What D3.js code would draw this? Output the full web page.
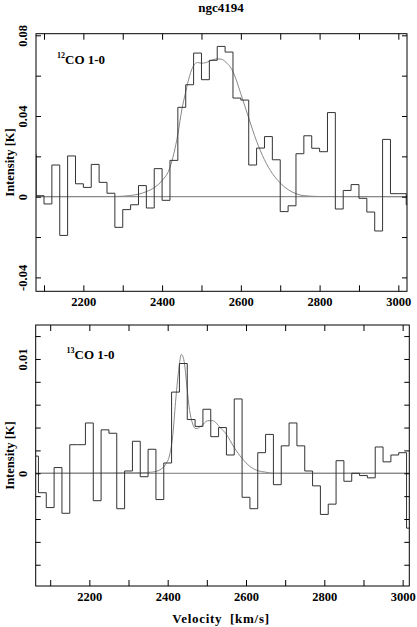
<!DOCTYPE html>
<html>
<head>
<meta charset="utf-8">
<script src="https://cdn.jsdelivr.net/npm/d3@7"></script>
<style>
body { margin: 0; background: #fff; }
svg text { font-family: "Liberation Serif", "Times New Roman", serif; font-weight: bold; fill: #000; }
</style>
</head>
<body>
<div id="chart-area"></div>
<script>
/*
*    ngc4194 CO spectra
*/

var title = "ngc4194";
var chanWidth = 20;   // km/s

// 12CO 1-0 : channel centres (km/s) and intensities (K)
var co12Vel = [2070, 2090, 2110, 2130, 2150, 2170, 2190, 2210, 2230, 2250,
    2270, 2290, 2310, 2330, 2350, 2370, 2390, 2410, 2430, 2450,
    2470, 2490, 2510, 2530, 2550, 2570, 2590, 2610, 2630, 2650,
    2670, 2690, 2710, 2730, 2750, 2770, 2790, 2810, 2830, 2850,
    2870, 2890, 2910, 2930, 2950, 2970, 2990, 3010, 3030];
var co12Val = [0.021, 0.0005, -0.0036, 0.0157, -0.0192, 0.0202, 0.0064, 0.0046, 0.016, 0.0071,
    0.0017, -0.0152, -0.0064, -0.004, 0.0055, -0.0056, 0.0139, -0.0018, 0.018, 0.0443,
    0.0555, 0.0712, 0.058, 0.0676, 0.0745, 0.0717, 0.0489, 0.0479, 0.0157, 0.0241,
    0.0298, 0.0183, -0.0074, -0.0045, 0.0213, 0.0302, 0.024, 0.0223, 0.0417, -0.0061,
    0.0031, 0.006, -0.0008, -0.0076, -0.017, 0.0284, 0.0015, 0.0015, -0.004];

// 12CO gaussian fit
var co12FitVel = [2080, 2280, 2320, 2360, 2380, 2400, 2420, 2440, 2450, 2460,
    2470, 2480, 2490, 2500, 2510, 2520, 2540, 2550, 2560, 2580,
    2600, 2620, 2640, 2660, 2680, 2700, 2720, 2740, 2760, 2800, 3022];
var co12FitVal = [0, 0.0001, 0.0006, 0.0025, 0.0045, 0.008, 0.0145, 0.031, 0.043, 0.052,
    0.060, 0.065, 0.0665, 0.0662, 0.0664, 0.0672, 0.0683, 0.0682, 0.067, 0.062,
    0.051, 0.039, 0.0275, 0.0183, 0.0115, 0.0068, 0.0035, 0.0015, 0.0005, 0.0001, 0];

// 13CO 1-0 : channel centres (km/s) and intensities (K)
var co13Vel = [2060, 2080, 2100, 2120, 2140, 2160, 2180, 2200, 2220, 2240,
    2260, 2280, 2300, 2320, 2340, 2360, 2380, 2400, 2420, 2440,
    2460, 2480, 2500, 2520, 2540, 2560, 2580, 2600, 2620, 2640,
    2660, 2680, 2700, 2720, 2740, 2760, 2780, 2800, 2820, 2840,
    2860, 2880, 2900, 2920, 2940, 2960, 2980, 3000, 3020];
var co13Val = [0.0015, -0.0017, -0.003, 0.0005, -0.0035, 0.0025, 0.0025, 0.0044, -0.0024, 0.0038,
    0.0035, -0.0031, 0.0002, 0.0028, -0.0003, 0.0021, -0.0023, 0.0009, 0.0071, 0.0096,
    0.0047, 0.0041, 0.0056, 0.0032, 0.004, 0.0016, 0.0065, -0.0021, -0.0031, 0.0018,
    0.0034, -0.001, 0.0024, 0.0044, 0.0024, 0.0002, -0.0011, -0.0036, -0.0027, 0.0011,
    -0.0007, 0.0, -0.0002, -0.0004, 0.0023, 0.001, 0.0016, 0.0018, -0.0048];

// 13CO gaussian fit
var co13FitVel = [2063, 2330, 2360, 2380, 2395, 2405, 2413, 2420, 2428, 2435,
    2442, 2449, 2456, 2463, 2472, 2485, 2502, 2515, 2534, 2550,
    2569, 2590, 2610, 2630, 2650, 2670, 3017];
var co13FitVal = [0, 0.00005, 0.0001, 0.0003, 0.0008, 0.0016, 0.0033, 0.0062, 0.009, 0.0104,
    0.0098, 0.0076, 0.0055, 0.0044, 0.0039, 0.0041, 0.0046, 0.0046, 0.004, 0.0034,
    0.0023, 0.0013, 0.0006, 0.00023, 0.0001, 0, 0];

// ticks
var velTicks = [2100, 2200, 2300, 2400, 2500, 2600, 2700, 2800, 2900, 3000];
var velLabels = [2200, 2400, 2600, 2800, 3000];
var co12Ticks = [-0.04, -0.02, 0, 0.02, 0.04, 0.06, 0.08];
var co12Labels = [-0.04, 0, 0.04, 0.08];
var co13Ticks = [-0.008, -0.006, -0.004, -0.002, 0, 0.002, 0.004, 0.006, 0.008, 0.01, 0.012];
var co13Labels = [0, 0.01];

var width = 417, height = 627;

var svg = d3.select("#chart-area")
    .append("svg")
    .attr("width", width)
    .attr("height", height);

svg.append("text")
    .attr("x", 221)
    .attr("y", 12)
    .attr("text-anchor", "middle")
    .attr("font-size", "13px")
    .text(title);

function fmt(d) { return d === 0 ? "0" : String(+d.toFixed(3)); }

function drawPanel(p) {
    var x = d3.scaleLinear().domain(p.xDomain).range([p.left, p.right]);
    var y = d3.scaleLinear().domain(p.yDomain).range([p.bottom, p.top]);

    svg.append("clipPath")
        .attr("id", "clip-" + p.id)
        .append("rect")
        .attr("x", p.left)
        .attr("y", p.top)
        .attr("width", p.right - p.left)
        .attr("height", p.bottom - p.top);

    var plot = svg.append("g").attr("clip-path", "url(#clip-" + p.id + ")");

    // zero line
    plot.append("line")
        .attr("x1", p.left).attr("x2", p.right)
        .attr("y1", y(0)).attr("y2", y(0))
        .attr("stroke", "#777")
        .attr("stroke-width", 1);

    // fit
    var fitLine = d3.line()
        .x(function(d) { return x(d[0]); })
        .y(function(d) { return y(d[1]); })
        .curve(d3.curveMonotoneX);
    plot.append("path")
        .datum(d3.zip(p.fitVel, p.fitVal))
        .attr("d", fitLine)
        .attr("fill", "none")
        .attr("stroke", "#888")
        .attr("stroke-width", 1);

    // spectrum histogram
    var steps = [];
    p.vel.forEach(function(v, i) {
        steps.push([v - chanWidth / 2, p.val[i]]);
        steps.push([v + chanWidth / 2, p.val[i]]);
    });
    var stepLine = d3.line()
        .x(function(d) { return x(d[0]); })
        .y(function(d) { return y(d[1]); });
    plot.append("path")
        .datum(steps)
        .attr("d", stepLine)
        .attr("fill", "none")
        .attr("stroke", "#333")
        .attr("stroke-width", 1);

    // axes (ticks inward on all sides)
    var xBottom = d3.axisBottom(x)
        .tickValues(velTicks)
        .tickSizeInner(-6).tickSizeOuter(0).tickPadding(6)
        .tickFormat(function(d) { return velLabels.indexOf(d) >= 0 ? d : ""; });
    var gxb = svg.append("g")
        .attr("transform", "translate(0," + p.bottom + ")")
        .call(xBottom);
    gxb.selectAll("text").attr("font-size", "12.5px");

    svg.append("g")
        .attr("transform", "translate(0," + p.top + ")")
        .call(d3.axisTop(x).tickValues(velTicks).tickSizeInner(-6).tickSizeOuter(0).tickFormat(""));

    var gyl = svg.append("g")
        .attr("transform", "translate(" + p.left + ",0)")
        .call(d3.axisLeft(y).tickValues(p.yTicks).tickSizeInner(-5).tickSizeOuter(0)
            .tickFormat(function(d) { return p.yLabels.indexOf(d) >= 0 ? fmt(d) : ""; }));
    gyl.selectAll("text")
        .attr("transform", "rotate(-90)")
        .attr("x", 0)
        .attr("y", -9)
        .attr("dy", 0)
        .attr("text-anchor", "middle")
        .attr("font-size", "12.5px");

    svg.append("g")
        .attr("transform", "translate(" + p.right + ",0)")
        .call(d3.axisRight(y).tickValues(p.yTicks).tickSizeInner(-5).tickSizeOuter(0).tickFormat(""));

    svg.selectAll(".domain").remove();
    svg.selectAll(".tick line").attr("stroke", "#000");

    // frame
    svg.append("rect")
        .attr("x", p.left).attr("y", p.top)
        .attr("width", p.right - p.left)
        .attr("height", p.bottom - p.top)
        .attr("fill", "none")
        .attr("stroke", "#000")
        .attr("stroke-width", 1);

    // y label
    svg.append("text")
        .attr("transform", "translate(14," + (p.top + p.bottom) / 2 + ") rotate(-90)")
        .attr("text-anchor", "middle")
        .attr("font-size", "12.5px")
        .text("Intensity [K]");

    // line label
    var lab = svg.append("text")
        .attr("x", p.labelX)
        .attr("y", p.labelY)
        .attr("font-size", "13px");
    lab.append("tspan").attr("font-size", "8px").attr("dy", -6).text(p.iso);
    lab.append("tspan").attr("dy", 6).text("CO 1-0");
}

drawPanel({
    id: "co12", left: 36, right: 407, top: 33.7, bottom: 291.3,
    xDomain: [2079.7, 3022], yDomain: [-0.0469, 0.0808],
    vel: co12Vel, val: co12Val, fitVel: co12FitVel, fitVal: co12FitVal,
    yTicks: co12Ticks, yLabels: co12Labels,
    iso: "12", labelX: 57, labelY: 64
});

drawPanel({
    id: "co13", left: 35.7, right: 409.3, top: 325, bottom: 586,
    xDomain: [2063, 3017], yDomain: [-0.00986, 0.01297],
    vel: co13Vel, val: co13Val, fitVel: co13FitVel, fitVal: co13FitVal,
    yTicks: co13Ticks, yLabels: co13Labels,
    iso: "13", labelX: 66.5, labelY: 359
});

// x label
svg.append("text")
    .attr("x", 221)
    .attr("y", 623)
    .attr("text-anchor", "middle")
    .attr("font-size", "13px")
    .attr("letter-spacing", "0.7px")
    .style("white-space", "pre")
    .text("Velocity  [km/s]");
</script>
</body>
</html>
